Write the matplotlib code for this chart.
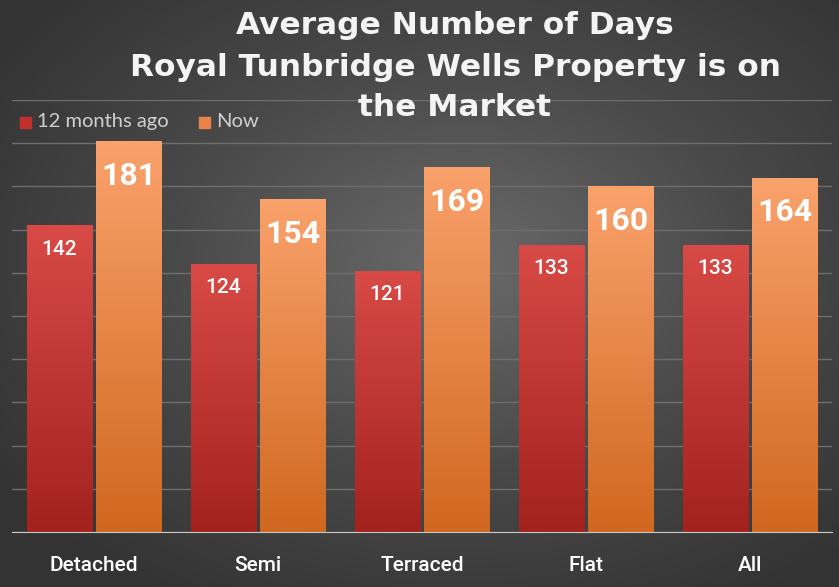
import numpy as np
import matplotlib.pyplot as plt
from matplotlib.colors import LinearSegmentedColormap

categories = ['Detached', 'Semi', 'Terraced', 'Flat', 'All']
ago = [142, 124, 121, 133, 133]
now = [181, 154, 169, 160, 164]
series_names = ['12 months ago', 'Now']
title_lines = ['Average Number of Days', 'Royal Tunbridge Wells Property is on', 'the Market']

W, H = 839, 587
fig = plt.figure(figsize=(W / 100, H / 100), dpi=100)

# background radial gradient
bg = fig.add_axes([0, 0, 1, 1])
yy, xx = np.mgrid[0:1:300j, 0:1:400j]
r = np.sqrt(((xx - 0.55) / 0.9) ** 2 + ((yy - 0.45) / 0.9) ** 2)
bg_cmap = LinearSegmentedColormap.from_list('bg', ['#6a6a6a', '#4a4a4a', '#333333'])
bg.imshow(r, cmap=bg_cmap, aspect='auto', extent=[0, 1, 0, 1], vmin=0, vmax=0.75)
bg.axis('off')

ax = fig.add_axes([12 / W, 55 / H, 820 / W, 432 / H])
ax.set_facecolor('none')
ax.set_xlim(-0.5, len(categories) - 0.5)
ax.set_ylim(0, 200)
ax.set_yticks(range(0, 201, 20))
ax.yaxis.grid(True, color='#6e6e6e', linewidth=1)
ax.set_axisbelow(True)
ax.tick_params(left=False, labelleft=False, bottom=False)
for s in ['top', 'right', 'left']:
    ax.spines[s].set_visible(False)
ax.spines['bottom'].set_color('#c8c8c8')
ax.spines['bottom'].set_zorder(5)

red_cmap = LinearSegmentedColormap.from_list('red', ['#a3221e', '#d84a46'])
org_cmap = LinearSegmentedColormap.from_list('org', ['#d0671f', '#faa26c'])

x = np.arange(len(categories))
bw = 0.40
grad = np.linspace(0, 1, 256).reshape(-1, 1)


def grad_bars(xs, vals, cmap, color):
    bars = ax.bar(xs, vals, bw, color=color, zorder=2)
    for b in bars:
        x0, y0 = b.get_x(), b.get_y()
        w, h = b.get_width(), b.get_height()
        b.set_facecolor('none')
        im = ax.imshow(grad, cmap=cmap, aspect='auto', origin='lower',
                       extent=[x0, x0 + w, y0, y0 + h], zorder=2)
        im.set_clip_path(b)
    return bars


grad_bars(x - bw / 2 - 0.01, ago, red_cmap, '#c2302c')
grad_bars(x + bw / 2 + 0.01, now, org_cmap, '#e8834a')
ax.set_xlim(-0.5, len(categories) - 0.5)
ax.set_ylim(0, 200)

for i in range(len(categories)):
    ax.text(x[i] - bw / 2 - 0.01, ago[i] - 11, str(ago[i]), ha='center', va='center',
            color='white', fontsize=15, family='Roboto', fontweight='medium', zorder=4)
    ax.text(x[i] + bw / 2 + 0.01, now[i] - 16, str(now[i]), ha='center', va='center',
            color='white', fontsize=23, family='Roboto', fontweight='bold', zorder=4)

ax.set_xticks(x)
ax.set_xticklabels(categories, color='white', fontsize=15, family='Roboto', fontweight='medium')
ax.tick_params(axis='x', pad=14)

# legend
fig.patches.append(plt.Rectangle((20 / W, 1 - 128 / H), 11 / W, 11 / H, transform=fig.transFigure,
                                 color='#c2302c'))
fig.text(37 / W, 1 - 122 / H, series_names[0], color='#d0d0d0', fontsize=14.5, family='Lato', va='center')
fig.patches.append(plt.Rectangle((199 / W, 1 - 128 / H), 11 / W, 11 / H, transform=fig.transFigure,
                                 color='#e8834a'))
fig.text(216 / W, 1 - 122 / H, series_names[1], color='#d0d0d0', fontsize=14.5, family='Lato', va='center')

# title, one text per line
for line, ypix in zip(title_lines, [26, 68, 108]):
    fig.text(455 / W, 1 - ypix / H, line, ha='center', va='center', color='#f4f4f4', fontsize=22.5,
             family='DejaVu Sans', fontweight='bold')

fig.savefig('out.png', dpi=100)
